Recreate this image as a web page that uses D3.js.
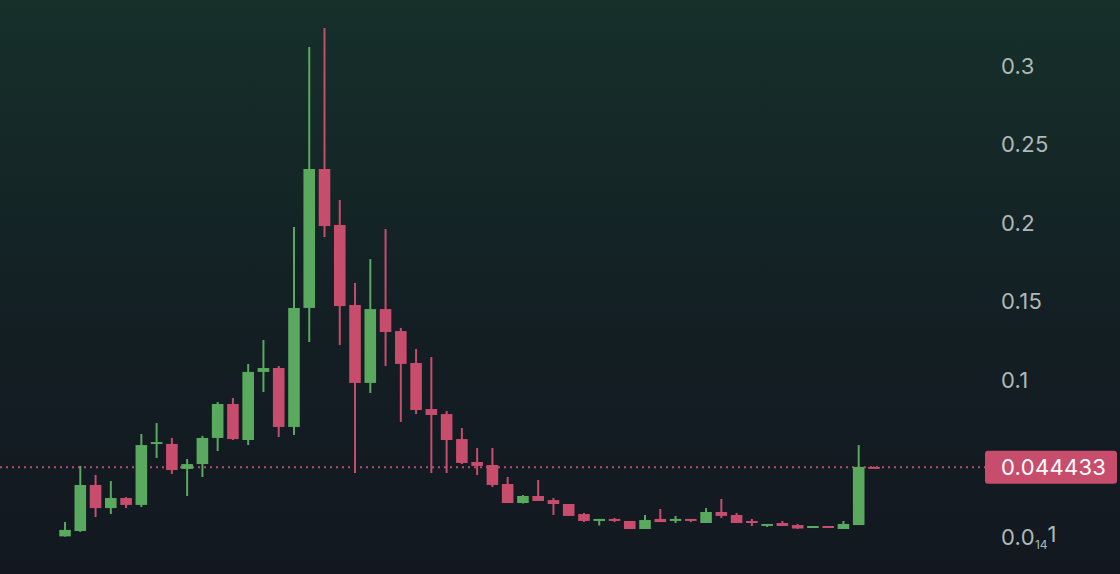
<!DOCTYPE html>
<html>
<head>
<meta charset="utf-8">
<script src="https://cdn.jsdelivr.net/npm/d3@7"></script>
<style>
  html, body { margin: 0; padding: 0; background: #131922; }
  svg { display: block; }
</style>
</head>
<body>
<svg id="chart" width="1120" height="574"></svg>
<script>
// ---- data ----
const openP = [0.0004,0.0038,0.0331,0.0184,0.0248,0.0204,0.0592,0.0592,0.0433,0.0464,
  0.0630,0.0846,0.0617,0.1050,0.1075,0.0700,0.1457,0.2341,0.1985,0.1476,
  0.0980,0.1450,0.1310,0.1107,0.0814,0.0782,0.0623,0.0477,0.0458,0.0337,
  0.0216,0.0261,0.0235,0.0210,0.0146,0.0102,0.0115,0.0102,0.0051,0.0115,
  0.0102,0.0115,0.0089,0.0159,0.0140,0.0102,0.0076,0.0089,0.0076,0.0060,
  0.0070,0.0051,0.0076,0.0446];
const highP = [0.0095,0.0452,0.0394,0.0356,0.0254,0.0655,0.0725,0.0630,0.0496,0.0643,
  0.0859,0.0884,0.1101,0.1253,0.1088,0.1972,0.3117,0.3238,0.2144,0.1616,
  0.1768,0.1959,0.1330,0.1196,0.1145,0.0802,0.0693,0.0566,0.0566,0.0382,
  0.0267,0.0363,0.0248,0.0210,0.0153,0.0115,0.0121,0.0102,0.0140,0.0178,
  0.0134,0.0115,0.0184,0.0242,0.0153,0.0115,0.0083,0.0102,0.0083,0.0070,
  0.0070,0.0102,0.0585,0.0447];
const lowP = [0.0002,0.0032,0.0127,0.0146,0.0184,0.0191,0.0503,0.0401,0.0261,0.0382,
  0.0547,0.0617,0.0585,0.0922,0.0636,0.0649,0.1240,0.1908,0.1221,0.0407,
  0.0916,0.1088,0.0732,0.0782,0.0407,0.0407,0.0464,0.0394,0.0318,0.0216,
  0.0213,0.0229,0.0140,0.0134,0.0095,0.0073,0.0095,0.0051,0.0051,0.0095,
  0.0089,0.0095,0.0089,0.0121,0.0089,0.0070,0.0064,0.0070,0.0051,0.0057,
  0.0060,0.0051,0.0076,0.0444];
const closeP = [0.0045,0.0331,0.0184,0.0248,0.0204,0.0585,0.0604,0.0426,0.0464,0.0630,
  0.0846,0.0623,0.1050,0.1075,0.0700,0.1457,0.2341,0.1978,0.1469,0.0980,
  0.1450,0.1304,0.1101,0.0808,0.0776,0.0617,0.0471,0.0452,0.0331,0.0216,
  0.0261,0.0229,0.0210,0.0134,0.0102,0.0115,0.0102,0.0051,0.0108,0.0095,
  0.0115,0.0102,0.0159,0.0134,0.0089,0.0089,0.0083,0.0070,0.0054,0.0070,
  0.0060,0.0083,0.0446,0.044433];
const tickValues = [0, 0.1, 0.15, 0.2, 0.25, 0.3];
const tickLabels = ["0.0|14|1", "0.1", "0.15", "0.2", "0.25", "0.3"];
const lastPrice = 0.044433;
const lastPriceLabel = "0.044433";

// ---- drawing ----
const W = 1120, H = 574;
const FONT = "Inter, 'DejaVu Sans', sans-serif";
const svg = d3.select("#chart");
const defs = svg.append("defs");
const grad = defs.append("linearGradient").attr("id", "bg")
  .attr("x1", 0).attr("y1", 0).attr("x2", 0).attr("y2", 1);
grad.append("stop").attr("offset", "0%").attr("stop-color", "#16302a");
grad.append("stop").attr("offset", "55%").attr("stop-color", "#131f24");
grad.append("stop").attr("offset", "100%").attr("stop-color", "#131820");
svg.append("rect").attr("width", W).attr("height", H).attr("fill", "url(#bg)");

const idx = d3.range(openP.length);
const x = d3.scaleBand().domain(idx).range([57.4, 881.6]).paddingInner(0.24).paddingOuter(0.12);
const y = d3.scaleLinear().domain([0, 0.3]).range([537, 65.4]);

const green = "#59a95e", red = "#c84d6c";
const data = idx.map(i => ({ i, o: openP[i], h: highP[i], l: lowP[i], c: closeP[i] }));

// last price dotted line
svg.append("line")
  .attr("x1", 0).attr("x2", 985)
  .attr("y1", y(lastPrice)).attr("y2", y(lastPrice))
  .attr("stroke", "#b84d70").attr("stroke-width", 2)
  .attr("stroke-dasharray", "2,4");

const g = svg.append("g");
const cx = d => x(d.i) + x.bandwidth() / 2;
g.selectAll("line.wick").data(data).join("line")
  .attr("class", "wick")
  .attr("x1", cx).attr("x2", cx)
  .attr("y1", d => y(d.h)).attr("y2", d => y(d.l))
  .attr("stroke", d => d.c >= d.o ? green : red)
  .attr("stroke-width", 2);
g.selectAll("rect.body").data(data).join("rect")
  .attr("class", "body")
  .attr("x", d => x(d.i))
  .attr("width", x.bandwidth())
  .attr("y", d => Math.min(y(d.o), y(d.c)))
  .attr("height", d => Math.max(2, Math.abs(y(d.o) - y(d.c))))
  .attr("fill", d => d.c >= d.o ? green : red);

// y axis labels
const axisG = svg.append("g").attr("transform", "translate(1001,0)");
const yAxis = d3.axisRight(y).tickValues(tickValues).tickSize(0).tickPadding(0)
  .tickFormat((d, i) => tickLabels[i]);
axisG.call(yAxis);
axisG.select(".domain").remove();
axisG.selectAll(".tick text")
  .attr("fill", "#aeb8b7")
  .attr("font-family", FONT)
  .attr("font-size", 22)
  .attr("letter-spacing", 0.3)
  .attr("dy", "0.35em")
  .attr("x", 0)
  .each(function(d, i) {
    const t = tickLabels[i];
    if (t.includes("|")) {
      const parts = t.split("|");
      const el = d3.select(this).text(null);
      el.append("tspan").text(parts[0]);
      el.append("tspan").attr("font-size", 12).attr("letter-spacing", 0).attr("dy", "0.3em").text(parts[1]);
      el.append("tspan").attr("dy", "-0.3em").attr("font-size", 22).text(parts[2]);
    }
  });

// last price label
const py = y(lastPrice);
svg.append("rect")
  .attr("x", 985).attr("y", py - 16.5).attr("width", 132).attr("height", 33)
  .attr("rx", 3).attr("fill", "#c84d6c");
svg.append("text")
  .attr("x", 1001).attr("y", py).attr("dy", "0.36em")
  .attr("fill", "#ffffff")
  .attr("font-family", FONT)
  .attr("font-size", 22)
  .attr("letter-spacing", 0.3)
  .text(lastPriceLabel);
</script>
</body>
</html>
